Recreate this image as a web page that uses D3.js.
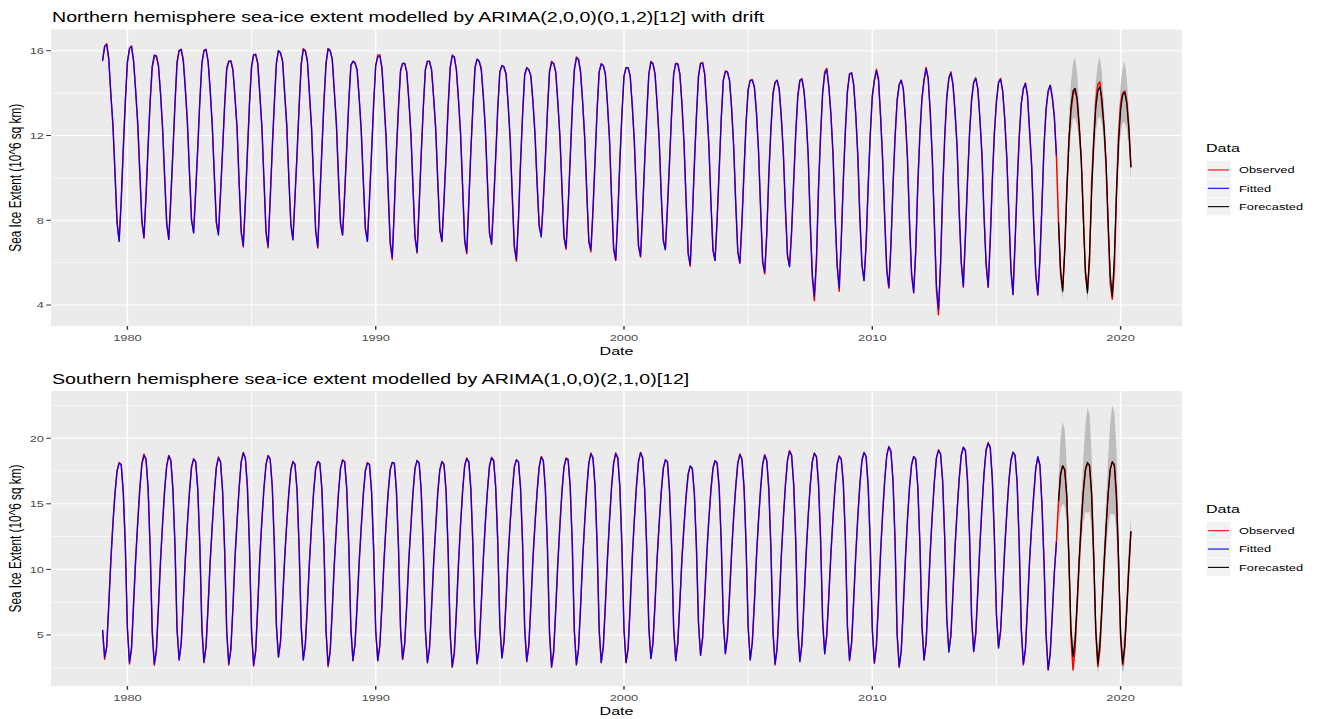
<!DOCTYPE html>
<html>
<head>
<meta charset="utf-8">
<script src="https://cdn.jsdelivr.net/npm/d3@7"></script>
<style>
body { margin: 0; background: #fff; }
svg { display: block; font-family: "Liberation Sans", Arial, sans-serif; }
</style>
</head>
<body>
<svg width="1318" height="719"></svg>
<script>
/**************************************************************************/
// monthly sea-ice extent (10^6 sq km), one row per year, Jan..Dec
var obsStart = 1979;          // observed + fitted start in Jan 1979
var fcStart = 2017 + 6 / 12;  // forecast starts Jul 2017
var seriesNames = ['Observed', 'Fitted', 'Forecasted'];
var seriesColors = ['#ff0000', '#0000ff', '#000000'];
var xTicks = [1980, 1990, 2000, 2010, 2020];
var xMinor = [1985, 1995, 2005, 2015];

var northObs = [
    [15.55, 16.2, 16.32, 15.6, 13.9, 12.5, 10.3, 7.9, 7.02, 8.9, 11.3, 13.6], // 1979
    [15.4, 16.1, 16.22, 15.5, 14.1, 12.5, 10.2, 7.9, 7.15, 9.2, 11.5, 13.6],
    [15.2, 15.7, 15.75, 15.3, 14.0, 12.3, 10.0, 7.8, 7.1, 9.0, 11.2, 13.5],
    [15.4, 16.0, 16.07, 15.6, 14.2, 12.6, 10.3, 8.0, 7.41, 9.4, 11.4, 13.6],
    [15.4, 16.0, 16.07, 15.5, 14.1, 12.5, 10.1, 7.9, 7.35, 9.2, 11.3, 13.4],
    [15.1, 15.5, 15.53, 15.1, 13.8, 12.3, 9.7, 7.4, 6.74, 8.8, 11.2, 13.5],
    [15.2, 15.8, 15.84, 15.4, 13.9, 12.4, 9.9, 7.4, 6.7, 8.9, 11.4, 13.5],
    [15.4, 16.0, 15.9, 15.5, 14.0, 12.5, 10.1, 7.8, 7.07, 9.1, 11.1, 13.4],
    [15.3, 16.1, 16.0, 15.5, 13.9, 12.3, 9.8, 7.5, 6.69, 9.1, 11.4, 13.6],
    [15.4, 16.1, 16.0, 15.6, 14.1, 12.6, 10.0, 7.9, 7.3, 9.3, 11.4, 13.6],
    [15.3, 15.5, 15.4, 15.1, 13.8, 12.2, 9.9, 7.6, 7.02, 9.0, 11.2, 13.5], // 1989
    [15.3, 15.8, 15.8, 15.2, 13.6, 11.9, 9.4, 6.9, 6.15, 8.5, 11.2, 13.3],
    [15.0, 15.4, 15.4, 15.0, 13.7, 12.1, 9.6, 7.2, 6.46, 8.7, 11.1, 13.3],
    [15.1, 15.5, 15.5, 15.1, 13.8, 12.3, 9.9, 7.6, 6.99, 8.9, 11.0, 13.4],
    [15.2, 15.8, 15.7, 15.1, 13.7, 12.1, 9.6, 7.0, 6.42, 8.9, 11.3, 13.4],
    [15.2, 15.6, 15.5, 15.2, 13.9, 12.3, 9.8, 7.4, 6.86, 8.8, 11.0, 13.3],
    [15.0, 15.3, 15.2, 14.9, 13.5, 11.8, 9.1, 6.7, 6.07, 8.0, 10.7, 13.0],
    [14.8, 15.2, 15.1, 14.8, 13.6, 12.1, 9.8, 7.8, 7.26, 8.9, 10.9, 13.2],
    [15.0, 15.5, 15.4, 15.0, 13.6, 12.0, 9.6, 7.2, 6.63, 8.6, 10.9, 13.3],
    [15.1, 15.7, 15.6, 15.0, 13.6, 11.9, 9.3, 7.0, 6.51, 8.4, 10.8, 13.2],
    [15.0, 15.4, 15.3, 14.9, 13.5, 11.8, 9.0, 6.6, 6.1, 8.2, 10.8, 13.0], // 1999
    [14.8, 15.2, 15.2, 14.8, 13.4, 11.7, 9.1, 6.8, 6.27, 8.4, 10.8, 13.0],
    [14.9, 15.5, 15.4, 14.9, 13.5, 11.8, 9.2, 7.1, 6.63, 8.6, 10.7, 13.0],
    [14.9, 15.4, 15.4, 14.9, 13.5, 11.6, 8.9, 6.4, 5.83, 8.0, 10.6, 12.9],
    [14.8, 15.4, 15.45, 14.9, 13.3, 11.6, 8.9, 6.6, 6.1, 8.0, 10.3, 12.8],
    [14.6, 15.05, 15.0, 14.6, 13.3, 11.5, 8.8, 6.5, 5.96, 7.9, 10.3, 12.6],
    [14.1, 14.6, 14.64, 14.3, 13.1, 11.3, 8.6, 6.0, 5.47, 7.3, 10.2, 12.3],
    [13.9, 14.5, 14.61, 14.2, 12.9, 11.2, 8.6, 6.4, 5.83, 7.4, 9.8, 12.1],
    [13.8, 14.6, 14.69, 14.1, 12.9, 11.1, 7.9, 5.3, 4.2, 6.0, 9.5, 12.0],
    [14.0, 15.0, 15.17, 14.3, 13.0, 11.1, 8.3, 5.9, 4.65, 7.1, 9.9, 12.3],
    [14.1, 14.9, 14.96, 14.4, 13.0, 11.0, 8.1, 5.9, 5.16, 6.8, 9.6, 12.0], // 2009
    [13.8, 14.6, 15.12, 14.7, 12.9, 10.8, 8.1, 5.6, 4.8, 6.8, 9.6, 11.9],
    [13.6, 14.4, 14.61, 14.2, 12.8, 10.9, 7.8, 5.4, 4.57, 6.5, 9.7, 12.1],
    [13.7, 14.6, 15.21, 14.7, 13.1, 10.9, 7.8, 4.7, 3.54, 5.9, 9.3, 11.9],
    [13.8, 14.7, 15.0, 14.4, 13.1, 11.5, 8.4, 6.0, 4.84, 7.3, 9.8, 12.1],
    [13.7, 14.5, 14.72, 14.2, 12.8, 11.1, 8.2, 6.0, 4.84, 7.1, 9.9, 12.1],
    [13.6, 14.5, 14.69, 14.1, 12.8, 10.9, 8.4, 5.6, 4.49, 7.0, 9.7, 11.9],
    [13.5, 14.2, 14.48, 13.9, 12.2, 10.6, 7.9, 5.4, 4.46, 6.1, 8.7, 11.5],
    [13.2, 14.1, 14.37, 13.8, 12.9, 11.0, 7.9, 5.5, 4.73, 6.6, 9.4, 11.7],
    [13.1, 13.9, 14.2, 13.7, 12.3, 10.9, 8.3, 5.6, 4.7, 6.1, 9.8, 11.8],
    [13.6, 14.4, 14.53, 13.4, 12.4, 10.5, 7.6, 5.0, 4.27, 5.7, 9.3, 12.0],
    [13.5, 14.0, 14.1, 13.6, 12.4, 10.5] // 2020
];

var northFit = [
    [15.5, 16.2, 16.3, 15.6, 14.0, 12.5, 10.2, 7.9, 7.0, 8.9, 11.4, 13.6], // 1979
    [15.5, 16.1, 16.2, 15.5, 14.1, 12.6, 10.3, 8.0, 7.2, 9.1, 11.5, 13.6],
    [15.3, 15.8, 15.75, 15.3, 14.0, 12.4, 10.1, 7.9, 7.1, 9.1, 11.3, 13.5],
    [15.5, 16.0, 16.05, 15.5, 14.2, 12.6, 10.2, 8.0, 7.4, 9.3, 11.4, 13.6],
    [15.4, 16.0, 16.05, 15.5, 14.2, 12.5, 10.2, 7.9, 7.3, 9.3, 11.3, 13.5],
    [15.2, 15.5, 15.5, 15.1, 13.8, 12.4, 9.8, 7.5, 6.8, 8.8, 11.2, 13.5],
    [15.3, 15.8, 15.8, 15.4, 14.0, 12.4, 9.9, 7.5, 6.8, 9.0, 11.3, 13.5],
    [15.4, 16.0, 15.9, 15.5, 14.0, 12.5, 10.0, 7.8, 7.1, 9.1, 11.2, 13.4],
    [15.4, 16.05, 16.0, 15.5, 14.0, 12.4, 9.9, 7.5, 6.75, 9.0, 11.3, 13.6],
    [15.4, 16.1, 16.0, 15.6, 14.1, 12.5, 10.1, 7.8, 7.3, 9.2, 11.4, 13.6],
    [15.3, 15.5, 15.45, 15.1, 13.8, 12.3, 9.9, 7.6, 7.0, 9.0, 11.2, 13.4], // 1989
    [15.3, 15.7, 15.75, 15.2, 13.7, 12.0, 9.5, 7.0, 6.25, 8.6, 11.2, 13.3],
    [15.1, 15.4, 15.4, 15.0, 13.7, 12.1, 9.6, 7.2, 6.5, 8.7, 11.1, 13.3],
    [15.1, 15.5, 15.5, 15.1, 13.8, 12.3, 9.8, 7.5, 7.0, 8.9, 11.1, 13.3],
    [15.2, 15.75, 15.7, 15.1, 13.7, 12.1, 9.6, 7.1, 6.5, 8.8, 11.3, 13.4],
    [15.2, 15.6, 15.5, 15.1, 13.8, 12.3, 9.8, 7.4, 6.9, 8.8, 11.0, 13.3],
    [15.0, 15.3, 15.25, 14.9, 13.5, 11.8, 9.2, 6.8, 6.15, 8.1, 10.7, 13.0],
    [14.9, 15.2, 15.1, 14.8, 13.6, 12.0, 9.7, 7.7, 7.2, 8.9, 10.9, 13.1],
    [15.0, 15.45, 15.4, 15.0, 13.6, 12.0, 9.6, 7.2, 6.7, 8.6, 10.9, 13.2],
    [15.1, 15.65, 15.6, 15.0, 13.6, 11.9, 9.4, 7.0, 6.6, 8.5, 10.8, 13.2],
    [15.0, 15.35, 15.3, 14.9, 13.5, 11.8, 9.1, 6.7, 6.15, 8.2, 10.8, 13.0], // 1999
    [14.8, 15.2, 15.2, 14.8, 13.4, 11.7, 9.1, 6.8, 6.3, 8.4, 10.8, 13.0],
    [14.9, 15.45, 15.4, 14.9, 13.5, 11.8, 9.2, 7.0, 6.6, 8.6, 10.8, 13.0],
    [14.9, 15.4, 15.35, 14.9, 13.5, 11.7, 9.0, 6.5, 5.9, 8.0, 10.6, 12.9],
    [14.8, 15.4, 15.4, 14.9, 13.4, 11.6, 8.9, 6.6, 6.1, 8.0, 10.4, 12.8],
    [14.6, 15.0, 15.0, 14.6, 13.3, 11.5, 8.8, 6.5, 6.0, 7.9, 10.3, 12.6],
    [14.2, 14.6, 14.6, 14.3, 13.1, 11.3, 8.6, 6.1, 5.55, 7.4, 10.1, 12.3],
    [14.0, 14.5, 14.6, 14.2, 12.9, 11.2, 8.6, 6.3, 5.8, 7.5, 9.8, 12.1],
    [13.9, 14.6, 14.65, 14.1, 12.9, 11.1, 8.0, 5.5, 4.4, 6.2, 9.5, 12.0],
    [14.0, 14.9, 15.1, 14.3, 13.0, 11.2, 8.3, 5.9, 4.8, 7.0, 9.9, 12.2],
    [14.1, 14.9, 14.95, 14.4, 13.0, 11.1, 8.1, 5.9, 5.15, 6.9, 9.6, 12.0], // 2009
    [13.9, 14.6, 15.05, 14.6, 12.9, 10.9, 8.1, 5.7, 4.85, 6.8, 9.6, 11.9],
    [13.7, 14.4, 14.6, 14.2, 12.8, 10.9, 7.9, 5.5, 4.6, 6.6, 9.7, 12.0],
    [13.8, 14.6, 15.15, 14.7, 13.1, 11.0, 7.9, 4.9, 3.8, 6.0, 9.3, 11.9],
    [13.8, 14.7, 14.95, 14.4, 13.1, 11.4, 8.4, 6.0, 4.9, 7.2, 9.8, 12.1],
    [13.7, 14.5, 14.7, 14.2, 12.8, 11.1, 8.2, 5.9, 4.85, 7.0, 9.8, 12.1],
    [13.6, 14.5, 14.65, 14.1, 12.8, 11.0, 8.3, 5.7, 4.5, 6.9, 9.6, 11.9],
    [13.5, 14.2, 14.45, 13.9, 12.3, 10.6, 7.9, 5.5, 4.5, 6.2, 8.8, 11.5],
    [13.3, 14.1, 14.37, 13.8, 12.8, 11.05] // 2017
];

// forecast Jul 2017 .. Jun 2020 with interval bounds
var northFc = [7.9, 5.6, 4.65, 6.5, 9.3, 11.7,
    13.3, 14.1, 14.22, 13.7, 12.5, 10.8, 8.0, 5.5, 4.57, 6.4, 9.3, 11.6,
    13.3, 14.1, 14.3, 13.7, 12.4, 10.7, 7.9, 5.4, 4.41, 6.3, 9.2, 11.6,
    13.2, 13.9, 14.05, 13.5, 12.3, 10.5];
var northLo = [7.3, 5.1, 4.2, 5.9, 8.5, 10.7,
    12.2, 12.8, 12.8, 12.5, 11.6, 10.1, 7.3, 5.0, 4.15, 5.8, 8.5, 10.6,
    12.1, 12.8, 12.9, 12.5, 11.5, 10.0, 7.2, 4.9, 4.15, 5.7, 8.4, 10.6,
    12.0, 12.6, 12.6, 12.3, 11.4, 9.8];
var northHi = [8.5, 6.1, 5.1, 7.1, 10.1, 12.7,
    14.5, 15.4, 15.7, 14.9, 13.4, 11.5, 8.7, 6.0, 5.0, 7.0, 10.1, 12.6,
    14.5, 15.4, 15.7, 14.9, 13.3, 11.4, 8.6, 5.9, 4.9, 6.9, 10.0, 12.6,
    14.4, 15.2, 15.5, 14.7, 13.2, 11.2];

var southObs = [
    [5.38, 3.15, 4.1, 7.3, 10.7, 13.5, 15.8, 17.5, 18.15, 18.0, 15.9, 11.8], // 1979
    [5.5, 2.79, 4.0, 7.4, 10.8, 13.6, 16.2, 18.1, 18.8, 18.4, 16.2, 11.6],
    [5.2, 2.7, 3.8, 7.1, 10.6, 13.5, 16.1, 17.9, 18.69, 18.3, 16.1, 11.8],
    [5.4, 3.09, 4.4, 7.5, 10.8, 13.5, 15.9, 17.8, 18.44, 18.2, 16.2, 11.9],
    [5.6, 2.89, 4.1, 7.2, 10.6, 13.3, 15.8, 17.8, 18.56, 18.2, 16.0, 11.4],
    [5.2, 2.71, 3.9, 7.1, 10.9, 13.7, 16.2, 18.2, 18.92, 18.5, 16.3, 11.7],
    [5.2, 2.63, 3.8, 7.2, 10.9, 13.8, 16.2, 18.0, 18.69, 18.4, 16.4, 12.0],
    [5.8, 3.34, 4.5, 7.6, 10.8, 13.5, 15.8, 17.6, 18.23, 18.0, 16.0, 11.6],
    [5.6, 3.09, 4.3, 7.3, 10.6, 13.4, 15.9, 17.7, 18.23, 18.1, 16.1, 11.7],
    [5.3, 2.58, 3.7, 6.9, 10.4, 13.2, 15.8, 17.7, 18.36, 18.2, 16.2, 11.8],
    [5.5, 3.04, 4.3, 7.2, 10.5, 13.2, 15.7, 17.5, 18.15, 18.0, 15.9, 11.5], // 1989
    [5.3, 3.04, 4.2, 7.2, 10.6, 13.4, 15.8, 17.6, 18.15, 18.1, 16.1, 11.8],
    [5.5, 3.14, 4.3, 7.3, 10.7, 13.3, 15.8, 17.7, 18.31, 18.1, 16.0, 11.6],
    [5.4, 2.89, 4.0, 7.1, 10.4, 13.2, 15.9, 17.6, 18.23, 18.0, 16.0, 11.4],
    [5.0, 2.53, 3.6, 6.8, 10.4, 13.4, 16.0, 17.9, 18.49, 18.2, 16.1, 11.7],
    [5.3, 2.79, 4.0, 7.3, 10.8, 13.6, 16.0, 17.9, 18.54, 18.3, 16.3, 12.1],
    [5.8, 3.27, 4.5, 7.6, 11.0, 13.6, 15.9, 17.8, 18.36, 18.2, 16.2, 11.9],
    [5.5, 2.96, 4.2, 7.3, 10.8, 13.5, 15.9, 17.8, 18.61, 18.3, 16.1, 11.6],
    [5.1, 2.53, 3.7, 6.9, 10.4, 13.3, 15.9, 17.8, 18.49, 18.4, 16.3, 12.0],
    [5.3, 2.71, 3.9, 7.1, 10.7, 13.6, 16.2, 18.1, 18.87, 18.5, 16.4, 12.0],
    [5.4, 2.89, 4.1, 7.3, 10.8, 13.8, 16.3, 18.1, 18.87, 18.5, 16.3, 11.7], // 1999
    [5.4, 2.89, 4.0, 7.2, 10.9, 13.8, 16.3, 18.2, 18.92, 18.5, 16.1, 11.5],
    [5.6, 3.22, 4.4, 7.4, 10.8, 13.5, 15.9, 17.7, 18.36, 18.2, 16.0, 11.8],
    [5.5, 3.04, 4.4, 7.5, 10.8, 13.3, 15.5, 17.2, 17.85, 17.7, 15.8, 11.7],
    [6.0, 3.47, 4.8, 7.9, 11.2, 13.8, 16.1, 17.7, 18.28, 18.1, 16.2, 12.1],
    [6.1, 3.6, 4.9, 8.0, 11.3, 14.0, 16.3, 18.1, 18.8, 18.4, 16.3, 11.9],
    [5.6, 3.09, 4.4, 7.4, 10.9, 13.7, 16.1, 18.0, 18.74, 18.3, 16.1, 11.6],
    [5.2, 2.71, 4.0, 7.2, 10.9, 13.9, 16.4, 18.3, 19.05, 18.7, 16.5, 12.2],
    [5.5, 2.96, 4.3, 7.6, 11.1, 14.0, 16.4, 18.2, 18.87, 18.6, 16.6, 12.4],
    [6.1, 3.6, 5.0, 8.0, 11.2, 13.9, 16.3, 18.0, 18.66, 18.4, 16.6, 12.3],
    [5.6, 3.04, 4.4, 7.6, 11.1, 14.0, 16.5, 18.3, 18.92, 18.6, 16.4, 12.0], // 2009
    [5.4, 2.84, 4.2, 7.6, 11.3, 14.3, 16.8, 18.7, 19.37, 19.0, 16.8, 12.2],
    [5.0, 2.53, 3.8, 7.2, 10.8, 13.8, 16.3, 18.0, 18.61, 18.4, 16.3, 12.0],
    [5.7, 3.09, 4.4, 7.8, 11.3, 14.2, 16.7, 18.5, 19.12, 18.8, 16.8, 12.4],
    [6.3, 3.73, 5.0, 8.3, 11.7, 14.5, 16.9, 18.7, 19.32, 19.1, 16.9, 12.6],
    [6.3, 3.73, 5.1, 8.4, 11.9, 14.8, 17.3, 19.1, 19.68, 19.3, 16.9, 12.5],
    [6.6, 4.06, 5.3, 8.3, 11.6, 14.3, 16.7, 18.3, 18.92, 18.7, 16.6, 11.9],
    [5.4, 2.71, 3.9, 7.2, 10.6, 13.3, 15.6, 17.7, 18.54, 17.9, 14.9, 10.5],
    [4.9, 2.33, 3.6, 6.6, 9.8, 12.1, 15.2, 17.3, 17.9, 17.6, 15.5, 10.9],
    [4.9, 2.33, 3.9, 7.2, 10.5, 13.5, 15.9, 17.6, 18.1, 17.9, 15.6, 10.8],
    [5.3, 2.6, 3.9, 7.0, 10.3, 13.2, 15.8, 17.7, 18.2, 18.0, 15.2, 10.4],
    [4.8, 2.7, 4.1, 7.1, 10.3, 12.9] // 2020
];

var southFit = [
    [5.4, 3.3, 4.1, 7.3, 10.6, 13.5, 15.8, 17.5, 18.1, 18.0, 15.9, 11.8], // 1979
    [5.5, 2.9, 4.0, 7.4, 10.8, 13.6, 16.1, 18.0, 18.65, 18.4, 16.2, 11.6],
    [5.3, 2.8, 3.8, 7.1, 10.6, 13.5, 16.0, 17.9, 18.65, 18.3, 16.1, 11.8],
    [5.4, 3.1, 4.3, 7.5, 10.8, 13.5, 15.9, 17.8, 18.4, 18.2, 16.1, 11.8],
    [5.5, 2.95, 4.1, 7.2, 10.6, 13.3, 15.8, 17.8, 18.5, 18.2, 16.0, 11.5],
    [5.3, 2.8, 3.9, 7.1, 10.8, 13.7, 16.2, 18.2, 18.85, 18.5, 16.3, 11.7],
    [5.3, 2.7, 3.8, 7.2, 10.9, 13.7, 16.2, 18.0, 18.65, 18.4, 16.3, 11.9],
    [5.7, 3.3, 4.5, 7.6, 10.8, 13.5, 15.8, 17.6, 18.2, 18.0, 16.0, 11.6],
    [5.6, 3.1, 4.3, 7.3, 10.6, 13.4, 15.9, 17.7, 18.2, 18.1, 16.1, 11.7],
    [5.3, 2.7, 3.8, 6.9, 10.4, 13.2, 15.8, 17.7, 18.3, 18.2, 16.1, 11.8],
    [5.5, 3.05, 4.3, 7.2, 10.5, 13.2, 15.7, 17.5, 18.1, 18.0, 15.9, 11.6], // 1989
    [5.4, 3.05, 4.2, 7.2, 10.6, 13.4, 15.8, 17.6, 18.15, 18.1, 16.0, 11.7],
    [5.5, 3.15, 4.3, 7.3, 10.7, 13.3, 15.8, 17.7, 18.3, 18.1, 16.0, 11.6],
    [5.4, 2.9, 4.0, 7.1, 10.5, 13.2, 15.8, 17.6, 18.2, 18.0, 16.0, 11.5],
    [5.1, 2.6, 3.7, 6.8, 10.4, 13.4, 15.9, 17.9, 18.45, 18.2, 16.1, 11.7],
    [5.3, 2.85, 4.0, 7.3, 10.7, 13.6, 16.0, 17.9, 18.5, 18.3, 16.2, 12.0],
    [5.7, 3.25, 4.5, 7.6, 10.9, 13.6, 15.9, 17.8, 18.35, 18.2, 16.2, 11.9],
    [5.5, 3.0, 4.2, 7.3, 10.8, 13.5, 15.9, 17.8, 18.55, 18.3, 16.1, 11.7],
    [5.2, 2.6, 3.7, 6.9, 10.4, 13.3, 15.9, 17.8, 18.45, 18.3, 16.3, 11.9],
    [5.3, 2.75, 3.9, 7.1, 10.7, 13.6, 16.1, 18.1, 18.8, 18.5, 16.3, 11.9],
    [5.4, 2.9, 4.1, 7.3, 10.8, 13.7, 16.3, 18.1, 18.85, 18.5, 16.3, 11.7], // 1999
    [5.4, 2.9, 4.0, 7.3, 10.9, 13.8, 16.3, 18.2, 18.9, 18.5, 16.1, 11.6],
    [5.6, 3.2, 4.4, 7.4, 10.8, 13.5, 15.9, 17.7, 18.35, 18.2, 16.0, 11.7],
    [5.5, 3.05, 4.4, 7.4, 10.8, 13.3, 15.6, 17.3, 17.9, 17.7, 15.8, 11.7],
    [5.9, 3.45, 4.8, 7.9, 11.1, 13.8, 16.0, 17.7, 18.3, 18.1, 16.2, 12.0],
    [6.0, 3.55, 4.9, 8.0, 11.2, 14.0, 16.3, 18.1, 18.75, 18.4, 16.3, 11.9],
    [5.6, 3.1, 4.4, 7.4, 10.9, 13.7, 16.1, 18.0, 18.7, 18.3, 16.1, 11.7],
    [5.3, 2.8, 4.0, 7.2, 10.9, 13.8, 16.4, 18.3, 19.0, 18.7, 16.5, 12.2],
    [5.5, 3.0, 4.3, 7.5, 11.1, 14.0, 16.4, 18.2, 18.85, 18.6, 16.5, 12.3],
    [6.0, 3.55, 5.0, 8.0, 11.2, 13.9, 16.3, 18.0, 18.6, 18.4, 16.5, 12.3],
    [5.6, 3.1, 4.4, 7.6, 11.1, 14.0, 16.5, 18.3, 18.9, 18.6, 16.4, 12.0], // 2009
    [5.4, 2.9, 4.2, 7.6, 11.2, 14.2, 16.8, 18.7, 19.35, 19.0, 16.8, 12.2],
    [5.1, 2.6, 3.8, 7.2, 10.8, 13.8, 16.3, 18.0, 18.6, 18.4, 16.3, 12.0],
    [5.7, 3.1, 4.4, 7.8, 11.3, 14.2, 16.7, 18.5, 19.05, 18.8, 16.7, 12.3],
    [6.2, 3.7, 5.0, 8.3, 11.7, 14.5, 16.9, 18.7, 19.3, 19.0, 16.8, 12.5],
    [6.3, 3.75, 5.1, 8.3, 11.8, 14.7, 17.3, 19.1, 19.6, 19.3, 16.9, 12.5],
    [6.5, 4.0, 5.3, 8.3, 11.6, 14.3, 16.7, 18.3, 18.95, 18.7, 16.6, 12.0],
    [5.5, 2.8, 3.9, 7.2, 10.6, 13.3, 15.7, 17.7, 18.6, 18.0, 15.0, 10.6],
    [5.0, 2.35, 3.6, 6.6, 9.8, 12.1] // 2017
];

var southFc = [15.2, 17.2, 17.9, 17.6, 15.6, 11.0,
    5.5, 3.35, 4.6, 7.5, 10.8, 13.6, 16.0, 17.6, 18.15, 17.9, 15.8, 11.2,
    5.4, 2.8, 4.3, 7.2, 10.4, 13.3, 15.8, 17.6, 18.2, 17.9, 15.8, 11.0,
    5.0, 2.84, 4.1, 7.0, 10.2, 12.9];
var southLo = [13.4, 14.6, 15.0, 14.8, 13.5, 9.5,
    4.5, 2.3, 3.5, 6.3, 9.4, 11.9, 13.6, 14.4, 14.3, 14.4, 13.0, 9.2,
    4.2, 2.0, 3.1, 5.8, 8.8, 11.4, 13.2, 14.2, 14.2, 14.2, 12.8, 8.9,
    3.7, 2.0, 2.8, 5.5, 8.6, 11.5];
var southHi = [17.0, 20.0, 21.3, 20.6, 17.8, 12.6,
    6.6, 4.4, 5.7, 8.8, 12.3, 15.4, 18.5, 21.0, 22.3, 21.8, 18.8, 13.3,
    6.7, 4.0, 5.6, 8.7, 12.1, 15.3, 18.6, 21.2, 22.5, 22.0, 19.0, 13.2,
    6.4, 4.1, 5.5, 8.5, 11.8, 14.1];

/**************************************************************************/
var SX = 1.36; // the reference is stretched sideways, so text is too
var svg = d3.select('svg');

var panels = [{
    title: 'Northern hemisphere sea-ice extent modelled by ARIMA(2,0,0)(0,1,2)[12] with drift',
    top: 29.5, bottom: 326, yDomain: [3.01, 17.0],
    yTicks: [4, 8, 12, 16], yMinor: [6, 10, 14],
    obs: northObs, fit: northFit, fc: northFc, lo: northLo, hi: northHi
}, {
    title: 'Southern hemisphere sea-ice extent modelled by ARIMA(1,0,0)(2,1,0)[12]',
    top: 391, bottom: 686, yDomain: [1.11, 23.6],
    yTicks: [5, 10, 15, 20], yMinor: [2.5, 7.5, 12.5, 17.5, 22.5],
    obs: southObs, fit: southFit, fc: southFc, lo: southLo, hi: southHi
}];

var left = 51, right = 1182;
var x = d3.scaleLinear().domain([1976.923, 2022.473]).range([left, right]);

function label(g, px, py, s, size, anchor, color) {
    return g.append('text')
        .attr('transform', 'translate(' + [px, py] + ')scale(' + SX + ',1)')
        .attr('text-anchor', anchor || 'start')
        .attr('fill', color || '#000')
        .style('font-size', size + 'px')
        .text(s);
}

function monthly(values, start) {
    return values.map(function(v, i) {
        return {t: start + i / 12, v: v};
    });
}

panels.forEach(function(p, k) {
    var y = d3.scaleLinear().domain(p.yDomain).range([p.bottom, p.top]);
    var g = svg.append('g');

    label(g, 52, p.top - 7.5, p.title, 14.4);

    g.append('rect')
        .attr('x', left).attr('y', p.top)
        .attr('width', right - left).attr('height', p.bottom - p.top)
        .attr('fill', '#ebebeb');

    // grid
    g.selectAll('line.hminor').data(p.yMinor).enter().append('line')
        .attr('x1', left).attr('x2', right)
        .attr('y1', y).attr('y2', y)
        .attr('stroke', '#fff').attr('stroke-width', 0.6);
    g.selectAll('line.vminor').data(xMinor).enter().append('line')
        .attr('x1', x).attr('x2', x)
        .attr('y1', p.top).attr('y2', p.bottom)
        .attr('stroke', '#fff').attr('stroke-width', 0.9);
    g.selectAll('line.hmajor').data(p.yTicks).enter().append('line')
        .attr('x1', left).attr('x2', right)
        .attr('y1', y).attr('y2', y)
        .attr('stroke', '#fff').attr('stroke-width', 1.1);
    g.selectAll('line.vmajor').data(xTicks).enter().append('line')
        .attr('x1', x).attr('x2', x)
        .attr('y1', p.top).attr('y2', p.bottom)
        .attr('stroke', '#fff').attr('stroke-width', 1.5);

    var clipId = 'clip' + k;
    g.append('clipPath').attr('id', clipId).append('rect')
        .attr('x', left).attr('y', p.top)
        .attr('width', right - left).attr('height', p.bottom - p.top);
    var plot = g.append('g').attr('clip-path', 'url(#' + clipId + ')');

    var obs = monthly(d3.merge(p.obs), obsStart);
    var fit = monthly(d3.merge(p.fit), obsStart);
    var fc = p.fc.map(function(v, i) {
        return {t: fcStart + i / 12, v: v, lo: p.lo[i], hi: p.hi[i]};
    });

    var line = d3.line()
        .x(function(d) { return x(d.t); })
        .y(function(d) { return y(d.v); });

    plot.append('path')
        .attr('d', d3.area()
            .x(function(d) { return x(d.t); })
            .y0(function(d) { return y(d.lo); })
            .y1(function(d) { return y(d.hi); })(fc))
        .attr('fill', '#bdbdbd');

    [obs, fit, fc].forEach(function(s, i) {
        plot.append('path')
            .attr('d', line(s))
            .attr('fill', 'none')
            .attr('stroke', seriesColors[i])
            .attr('stroke-width', i == 0 ? 1.5 : 1.2)
            .attr('stroke-linejoin', 'round');
    });

    // axes
    g.selectAll('line.ytick').data(p.yTicks).enter().append('line')
        .attr('x1', left - 4.7).attr('x2', left)
        .attr('y1', y).attr('y2', y)
        .attr('stroke', '#333').attr('stroke-width', 1);
    p.yTicks.forEach(function(t) {
        label(g, left - 7, y(t) + 3.4, t, 9.44, 'end', '#4d4d4d');
    });
    g.selectAll('line.xtick').data(xTicks).enter().append('line')
        .attr('x1', x).attr('x2', x)
        .attr('y1', p.bottom).attr('y2', p.bottom + 3.7)
        .attr('stroke', '#333').attr('stroke-width', 1.4);
    xTicks.forEach(function(t) {
        label(g, x(t), p.bottom + 14.5, t, 9.44, 'middle', '#4d4d4d');
    });
    label(g, (left + right) / 2, p.bottom + 29.2, 'Date', 11.8, 'middle');

    g.append('text')
        .attr('transform', 'translate(' + [21, (p.top + p.bottom) / 2] + ')scale(' + SX + ',1)rotate(-90)')
        .attr('text-anchor', 'middle')
        .style('font-size', '11.8px')
        .text('Sea Ice Extent (10^6 sq km)');

    // legend
    var mid = (p.top + p.bottom) / 2;
    label(g, 1206, mid - 25.6, 'Data', 11.8);
    seriesNames.forEach(function(name, i) {
        var cy = mid - 7.8 + i * 18.35;
        g.append('rect')
            .attr('x', 1206).attr('y', cy - 9.2)
            .attr('width', 25).attr('height', 18.35)
            .attr('fill', '#f2f2f2').attr('stroke', '#fff').attr('stroke-width', 0.8);
        g.append('line')
            .attr('x1', 1208).attr('x2', 1229)
            .attr('y1', cy).attr('y2', cy)
            .attr('stroke', seriesColors[i]).attr('stroke-width', 1.1);
        label(g, 1239, cy + 3.4, name, 9.44);
    });
});
</script>
</body>
</html>
